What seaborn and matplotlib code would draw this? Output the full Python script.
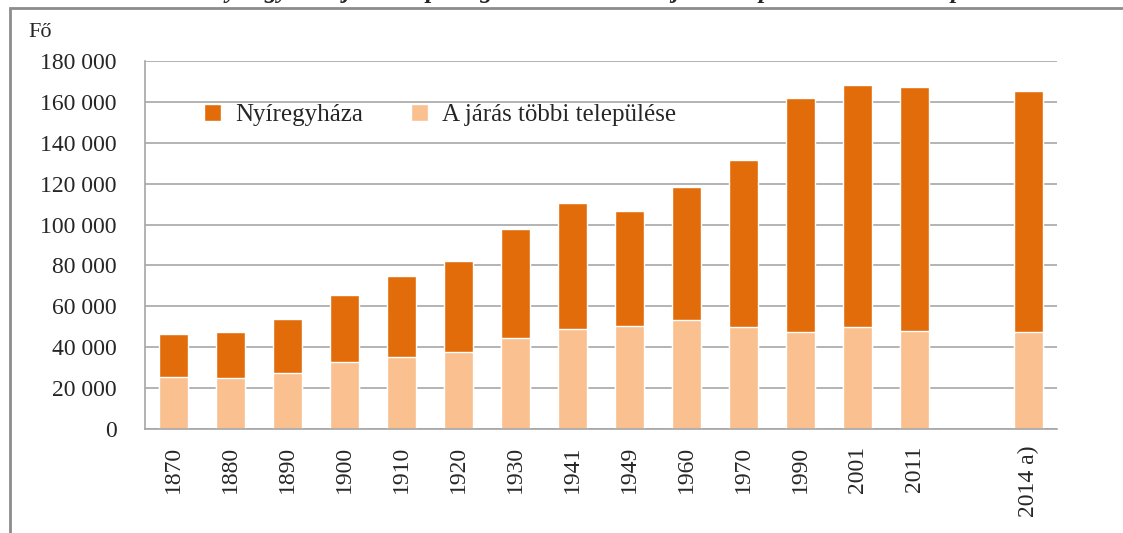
import numpy as np
import pandas as pd
import matplotlib.pyplot as plt
import seaborn as sns
from matplotlib.patches import Rectangle

# values
years = ["1870", "1880", "1890", "1900", "1910", "1920", "1930", "1941",
         "1949", "1960", "1970", "1990", "2001", "2011", "", "2014 a)"]
nyiregyhaza = [21000, 22500, 26100, 32700, 39800, 44700, 53100, 61600,
               56100, 65300, 81800, 114300, 118300, 119200, np.nan, 117700]
tobbi = [25600, 25100, 27550, 32800, 35000, 37500, 44700, 48900,
         50400, 53200, 49900, 47600, 49900, 48100, np.nan, 47600]

dark = "#E36C0A"
light = "#FAC090"

df = pd.DataFrame({"ev": years, "Nyíregyháza": nyiregyhaza,
                   "A járás többi települése": tobbi})
df["osszes"] = df["Nyíregyháza"] + df["A járás többi települése"]

sns.set_style("white")
plt.rcParams["font.family"] = ["Liberation Serif", "DejaVu Serif"]

fig = plt.figure(figsize=(11.23, 5.33), dpi=100)
ax = fig.add_axes([0.1291, 0.1951, 0.8121, 0.6905])

# stacked bars: total in dark orange, the rest of the district on top of it in light orange
sns.barplot(data=df, x="ev", y="osszes", order=years, color=dark,
            width=0.52, saturation=1, ax=ax, label="Nyíregyháza")
sns.barplot(data=df, x="ev", y="A járás többi települése", order=years,
            color=light, width=0.52, saturation=1, ax=ax,
            label="A járás többi települése")

ax.set_ylim(0, 180000)
ax.set_xlim(-0.5, len(years) - 0.5)
ax.set_yticks(range(0, 180001, 20000))
ax.set_yticklabels([f"{v:,}".replace(",", " ") for v in range(0, 180001, 20000)],
                   fontsize=17)
ax.set_xticks(range(len(years)))
ax.set_xticklabels(years, rotation=90, fontsize=17)
ax.set_xticks(np.arange(-0.5, len(years)), minor=True)
ax.tick_params(axis="x", which="major", length=0, pad=12)
ax.tick_params(axis="x", which="minor", length=8, width=1.2, color="#A6A6A6",
               direction="out")
ax.tick_params(axis="y", length=8.5, width=1.2, color="#A6A6A6", direction="out",
               pad=12)
ax.set_xlabel("")
ax.set_ylabel("")

ax.yaxis.grid(True, color="#B3B3B3", linewidth=1.4)
ax.set_axisbelow(True)
for s in ["top", "right"]:
    ax.spines[s].set_visible(False)
for s in ["left", "bottom"]:
    ax.spines[s].set_color("#A6A6A6")
    ax.spines[s].set_linewidth(1.2)

leg = ax.legend(loc="center left", bbox_to_anchor=(0.04, 0.853), ncol=2,
                frameon=False, fontsize=18, handlelength=0.7, handleheight=0.7,
                columnspacing=1.9, handletextpad=0.55)

fig.text(0.025, 0.93, "Fő", fontsize=16)

# outer frame of the original figure
fig.patches.append(Rectangle((10 / 1123, -0.05), 1.1, 1 - 8 / 533 + 0.05,
                             transform=fig.transFigure, fill=False,
                             edgecolor="#8C8C8C", linewidth=2))

# title of the original, cut off at the top edge (only descenders show)
fig.text(0.185, 1 + 2 / 533, "Nyíregyháza járás népességének alakulása a járásközpont és a többi település szerint",
         fontsize=18, style="italic", fontweight="bold", va="baseline")

fig.savefig("out.png", dpi=100)
